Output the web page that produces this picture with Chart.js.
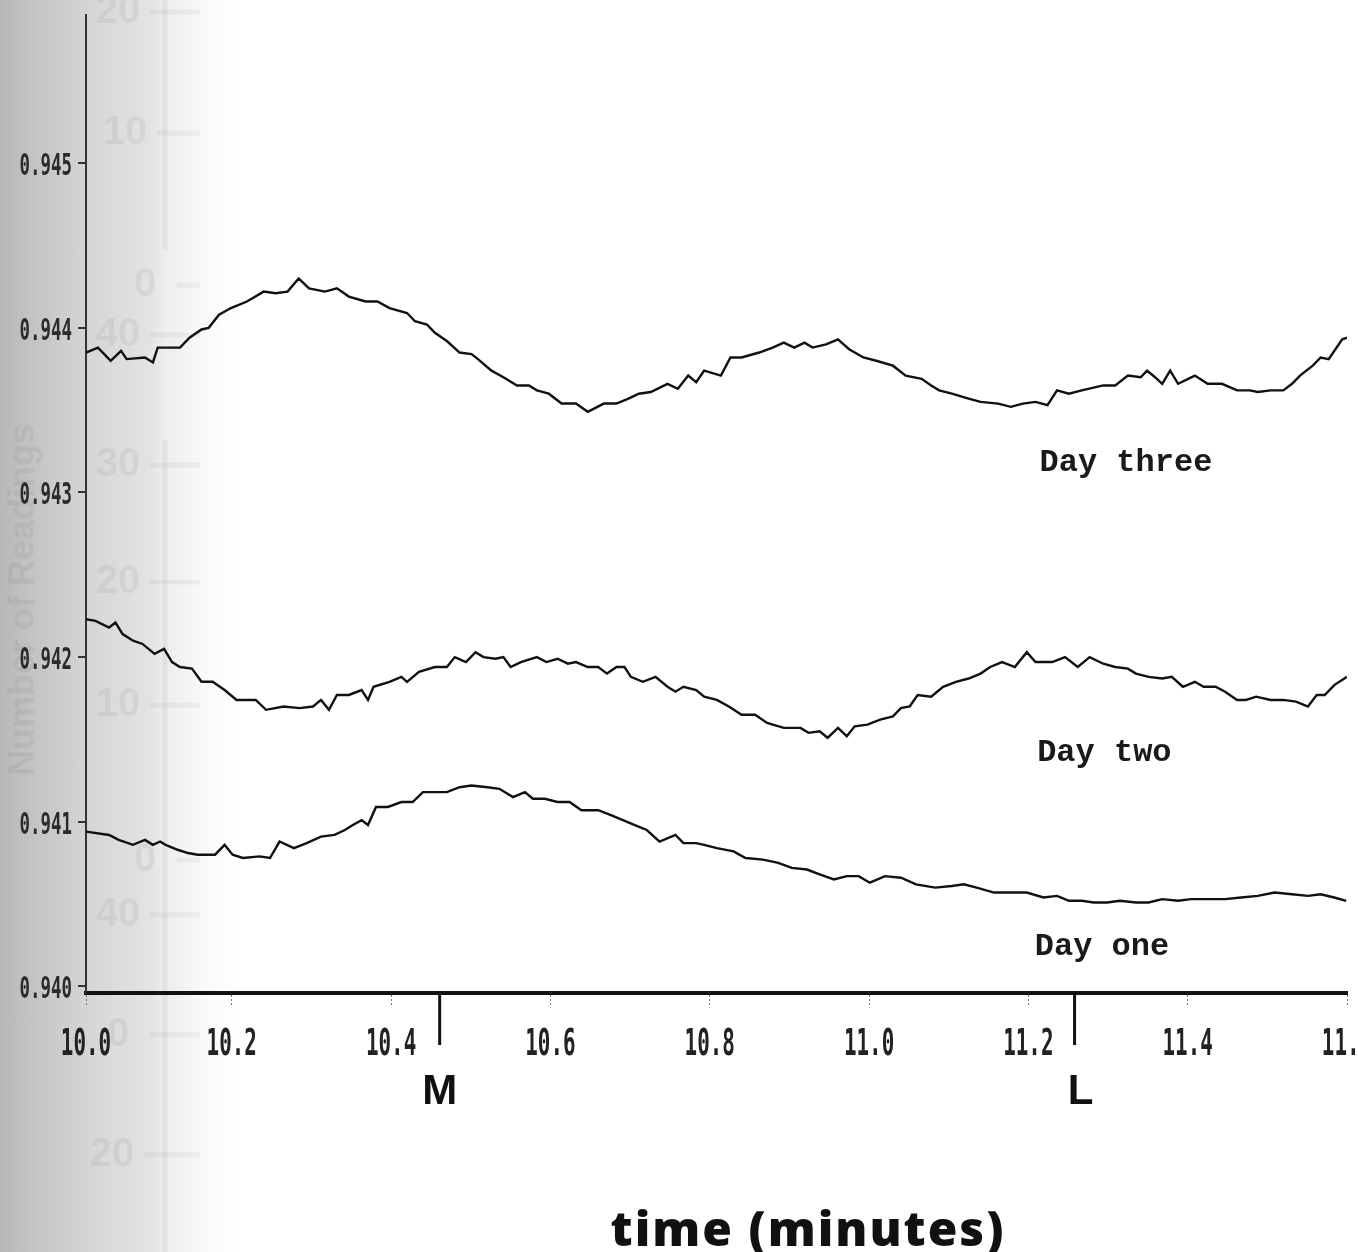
<!DOCTYPE html>
<html>
<head>
<meta charset="utf-8">
<script src="https://cdn.jsdelivr.net/npm/chart.js@4.4.1/dist/chart.umd.min.js"></script>
<style>
  html, body { margin: 0; padding: 0; overflow: hidden; }
  body {
    width: 1358px;
    height: 1252px;
    background: linear-gradient(to right, #b8b8b8 0px, #c6c6c6 40px, #d6d6d6 90px, #e3e3e3 150px, #ededed 165px, #f8f8f8 200px, #ffffff 240px);
  }
  #chart { display: block; }
</style>
</head>
<body>
<canvas id="chart" width="1358" height="1252"></canvas>
<script>
// axis ticks (the plotter put its "10.0" label at the axis line, a bit right of 10.0)
const xTickValues = [10.017, 10.2, 10.4, 10.6, 10.8, 11.0, 11.2, 11.4, 11.6];
const xTickLabels = ['10.0', '10.2', '10.4', '10.6', '10.8', '11.0', '11.2', '11.4', '11.6'];
const yTickValues = [0.940, 0.941, 0.942, 0.943, 0.944, 0.945];
const yTickLabels = ['0.940', '0.941', '0.942', '0.943', '0.944', '0.945'];

// event marks under the time axis
const markerTimes = [10.461, 11.258];
const markerLabels = ['M', 'L'];

const seriesNames = ['Day one', 'Day two', 'Day three'];

const dayOneTime = [10.017, 10.046, 10.058, 10.076, 10.091, 10.101, 10.110, 10.117, 10.132, 10.145,
  10.157, 10.179, 10.191, 10.201, 10.214, 10.235, 10.248, 10.260, 10.278, 10.294,
  10.312, 10.329, 10.342, 10.352, 10.363, 10.371, 10.381, 10.396, 10.413, 10.427,
  10.440, 10.455, 10.470, 10.486, 10.501, 10.521, 10.536, 10.553, 10.568, 10.578,
  10.593, 10.609, 10.624, 10.639, 10.660, 10.676, 10.691, 10.706, 10.721, 10.737,
  10.757, 10.767, 10.783, 10.793, 10.809, 10.830, 10.845, 10.867, 10.886, 10.903,
  10.922, 10.938, 10.956, 10.972, 10.987, 11.001, 11.020, 11.040, 11.059, 11.083,
  11.104, 11.119, 11.135, 11.157, 11.178, 11.198, 11.219, 11.236, 11.251, 11.267,
  11.282, 11.299, 11.315, 11.335, 11.351, 11.368, 11.388, 11.404, 11.425, 11.447,
  11.467, 11.488, 11.509, 11.531, 11.551, 11.567, 11.584, 11.599];
const dayOneValue = [0.94094, 0.94092, 0.94089, 0.94086, 0.94089, 0.94086, 0.94088, 0.94086, 0.94083, 0.94081,
  0.94080, 0.94080, 0.94086, 0.94080, 0.94078, 0.94079, 0.94078, 0.94088, 0.94084, 0.94087,
  0.94091, 0.94092, 0.94095, 0.94098, 0.94101, 0.94098, 0.94109, 0.94109, 0.94112, 0.94112,
  0.94118, 0.94118, 0.94118, 0.94121, 0.94122, 0.94121, 0.94120, 0.94115, 0.94118, 0.94114,
  0.94114, 0.94112, 0.94112, 0.94107, 0.94107, 0.94104, 0.94101, 0.94098, 0.94095, 0.94088,
  0.94092, 0.94087, 0.94087, 0.94086, 0.94084, 0.94082, 0.94078, 0.94077, 0.94075, 0.94072,
  0.94071, 0.94068, 0.94065, 0.94067, 0.94067, 0.94063, 0.94067, 0.94066, 0.94062, 0.94060,
  0.94061, 0.94062, 0.94060, 0.94057, 0.94057, 0.94057, 0.94054, 0.94055, 0.94052, 0.94052,
  0.94051, 0.94051, 0.94052, 0.94051, 0.94051, 0.94053, 0.94052, 0.94053, 0.94053, 0.94053,
  0.94054, 0.94055, 0.94057, 0.94056, 0.94055, 0.94056, 0.94054, 0.94052];

const dayTwoTime = [10.017, 10.029, 10.046, 10.054, 10.063, 10.076, 10.088, 10.103, 10.115, 10.125,
  10.135, 10.150, 10.162, 10.176, 10.191, 10.206, 10.230, 10.243, 10.265, 10.285,
  10.302, 10.312, 10.322, 10.332, 10.347, 10.363, 10.371, 10.378, 10.398, 10.413,
  10.420, 10.435, 10.455, 10.470, 10.480, 10.494, 10.506, 10.516, 10.531, 10.541,
  10.550, 10.563, 10.583, 10.595, 10.609, 10.622, 10.632, 10.647, 10.660, 10.671,
  10.683, 10.693, 10.701, 10.716, 10.732, 10.747, 10.757, 10.767, 10.783, 10.793,
  10.809, 10.824, 10.840, 10.857, 10.872, 10.893, 10.914, 10.924, 10.938, 10.948,
  10.961, 10.972, 10.982, 10.998, 11.014, 11.030, 11.040, 11.051, 11.061, 11.078,
  11.093, 11.109, 11.125, 11.140, 11.152, 11.167, 11.183, 11.198, 11.209, 11.230,
  11.246, 11.262, 11.277, 11.294, 11.309, 11.325, 11.335, 11.351, 11.368, 11.380,
  11.394, 11.409, 11.420, 11.435, 11.447, 11.462, 11.473, 11.486, 11.504, 11.520,
  11.536, 11.551, 11.562, 11.572, 11.584, 11.600];
const dayTwoValue = [0.94223, 0.94222, 0.94218, 0.94221, 0.94214, 0.94210, 0.94208, 0.94202, 0.94205, 0.94197,
  0.94194, 0.94193, 0.94185, 0.94185, 0.94180, 0.94174, 0.94174, 0.94168, 0.94170, 0.94169,
  0.94170, 0.94174, 0.94168, 0.94177, 0.94177, 0.94180, 0.94174, 0.94182, 0.94185, 0.94188,
  0.94185, 0.94191, 0.94194, 0.94194, 0.94200, 0.94197, 0.94203, 0.94200, 0.94199, 0.94200,
  0.94194, 0.94197, 0.94200, 0.94197, 0.94199, 0.94196, 0.94197, 0.94194, 0.94194, 0.94190,
  0.94194, 0.94194, 0.94188, 0.94185, 0.94188, 0.94182, 0.94179, 0.94182, 0.94180, 0.94176,
  0.94174, 0.94170, 0.94165, 0.94165, 0.94160, 0.94157, 0.94157, 0.94154, 0.94155, 0.94151,
  0.94157, 0.94152, 0.94158, 0.94159, 0.94162, 0.94164, 0.94169, 0.94170, 0.94177, 0.94176,
  0.94182, 0.94185, 0.94187, 0.94190, 0.94194, 0.94197, 0.94194, 0.94203, 0.94197, 0.94197,
  0.94200, 0.94194, 0.94200, 0.94196, 0.94194, 0.94193, 0.94190, 0.94188, 0.94187, 0.94188,
  0.94182, 0.94185, 0.94182, 0.94182, 0.94179, 0.94174, 0.94174, 0.94176, 0.94174, 0.94174,
  0.94173, 0.94170, 0.94177, 0.94177, 0.94183, 0.94188];

const dayThreeTime = [10.017, 10.032, 10.048, 10.061, 10.068, 10.091, 10.101, 10.107, 10.135, 10.147,
  10.162, 10.171, 10.184, 10.199, 10.219, 10.226, 10.240, 10.255, 10.270, 10.284,
  10.297, 10.317, 10.332, 10.347, 10.368, 10.383, 10.398, 10.420, 10.430, 10.445,
  10.455, 10.470, 10.486, 10.501, 10.509, 10.526, 10.541, 10.558, 10.573, 10.583,
  10.598, 10.614, 10.632, 10.647, 10.667, 10.683, 10.698, 10.711, 10.726, 10.747,
  10.760, 10.773, 10.783, 10.793, 10.814, 10.826, 10.840, 10.862, 10.879, 10.893,
  10.906, 10.919, 10.929, 10.946, 10.961, 10.975, 10.993, 11.009, 11.030, 11.046,
  11.066, 11.078, 11.088, 11.104, 11.125, 11.140, 11.162, 11.178, 11.193, 11.209,
  11.224, 11.236, 11.251, 11.267, 11.294, 11.309, 11.325, 11.341, 11.349, 11.359,
  11.368, 11.378, 11.388, 11.409, 11.425, 11.443, 11.462, 11.478, 11.488, 11.504,
  11.520, 11.531, 11.541, 11.557, 11.567, 11.577, 11.594, 11.600];
const dayThreeValue = [0.94385, 0.94388, 0.94380, 0.94386, 0.94381, 0.94382, 0.94379, 0.94388, 0.94388, 0.94394,
  0.94399, 0.94400, 0.94408, 0.94412, 0.94416, 0.94418, 0.94422, 0.94421, 0.94422, 0.94430,
  0.94424, 0.94422, 0.94424, 0.94419, 0.94416, 0.94416, 0.94412, 0.94409, 0.94404, 0.94402,
  0.94397, 0.94392, 0.94385, 0.94384, 0.94381, 0.94374, 0.94370, 0.94365, 0.94365, 0.94362,
  0.94360, 0.94354, 0.94354, 0.94349, 0.94354, 0.94354, 0.94357, 0.94360, 0.94361, 0.94366,
  0.94363, 0.94371, 0.94367, 0.94374, 0.94371, 0.94382, 0.94382, 0.94385, 0.94388, 0.94391,
  0.94388, 0.94391, 0.94388, 0.94390, 0.94393, 0.94387, 0.94382, 0.94380, 0.94377, 0.94371,
  0.94369, 0.94365, 0.94362, 0.94360, 0.94357, 0.94355, 0.94354, 0.94352, 0.94354, 0.94355,
  0.94353, 0.94362, 0.94360, 0.94362, 0.94365, 0.94365, 0.94371, 0.94370, 0.94374, 0.94370,
  0.94366, 0.94374, 0.94366, 0.94371, 0.94366, 0.94366, 0.94362, 0.94362, 0.94361, 0.94362,
  0.94362, 0.94366, 0.94371, 0.94377, 0.94382, 0.94381, 0.94393, 0.94394];

const toPoints = (times, values) => times.map((t, i) => ({ x: t, y: values[i] }));

// where each day's name is typed, in axis units (left edge, baseline)
const dayNameSpots = [
  { name: seriesNames[0], x: 11.208, y: 0.94019 },
  { name: seriesNames[1], x: 11.211, y: 0.94137 },
  { name: seriesNames[2], x: 11.214, y: 0.94313 }
];

// condensed plotter-style text
function squeezed(ctx, text, x, y, sx) {
  ctx.save();
  ctx.translate(x, y);
  ctx.scale(sx, 1);
  ctx.fillText(text, 0, 0);
  ctx.restore();
}

    // faint show-through from the other side of the page
const showThrough = {
  id: 'showThrough',
  beforeDraw(chart) {
    const ctx = chart.ctx;
    ctx.save();
    ctx.fillStyle = 'rgba(0, 0, 0, 0.05)';
    ctx.strokeStyle = 'rgba(0, 0, 0, 0.045)';
    ctx.lineWidth = 5;
    ctx.font = 'bold 40px "Liberation Sans"';
    ctx.textAlign = 'center';
    ctx.textBaseline = 'middle';
    const ghost = [[118, 12, '20'], [125, 133, '10'], [145, 285, '0'], [118, 335, '40'], [118, 465, '30'],
      [118, 582, '20'], [118, 705, '10'], [145, 860, '0'], [118, 915, '40'], [118, 1035, '0'], [112, 1155, '20']];
    ghost.forEach(([gx, gy, txt]) => {
      ctx.fillText(txt, gx, gy);
      ctx.beginPath();
      ctx.moveTo(gx + 32, gy);
      ctx.lineTo(200, gy);
      ctx.stroke();
    });
    ctx.beginPath();
    ctx.moveTo(165, 0);
    ctx.lineTo(165, 250);
    ctx.moveTo(165, 440);
    ctx.lineTo(165, 1252);
    ctx.stroke();
    ctx.translate(24, 600);
    ctx.rotate(-Math.PI / 2);
    ctx.font = 'bold 36px "Liberation Sans"';
    ctx.fillText('Number of Readings', 0, 0);
    ctx.restore();
  }
};

const paperLabels = {
  id: 'paperLabels',
  afterDraw(chart) {
    const ctx = chart.ctx;
    const xs = chart.scales.x;
    const ys = chart.scales.y;
    const bottom = chart.chartArea.bottom;
    ctx.save();

    // tick labels
    ctx.fillStyle = '#222';
    ctx.textBaseline = 'alphabetic';
    ctx.textAlign = 'center';
    ctx.font = 'bold 38px "DejaVu Sans Mono"';
    xTickValues.forEach((v, i) => squeezed(ctx, xTickLabels[i], xs.getPixelForValue(v), 1055, 0.55));
    ctx.textAlign = 'right';
    ctx.font = 'bold 30px "DejaVu Sans Mono"';
    ctx.fillStyle = '#2b2b2b';
    yTickValues.forEach((v, i) => squeezed(ctx, yTickLabels[i], 72, ys.getPixelForValue(v) + 12, 0.58));

    // day names
    ctx.fillStyle = '#1a1a1a';
    ctx.textAlign = 'left';
    ctx.font = 'bold 32px "Liberation Mono"';
    dayNameSpots.forEach(s => ctx.fillText(s.name, xs.getPixelForValue(s.x), ys.getPixelForValue(s.y)));

    // M and L marks
    ctx.strokeStyle = '#111';
    ctx.lineWidth = 3;
    ctx.fillStyle = '#111';
    ctx.textAlign = 'center';
    ctx.font = 'bold 42px "Liberation Sans"';
    markerTimes.forEach((t, i) => {
      const px = xs.getPixelForValue(t);
      ctx.beginPath();
      ctx.moveTo(px, bottom);
      ctx.lineTo(px, 1045);
      ctx.stroke();
      ctx.fillText(markerLabels[i], markerLabels[i] === 'L' ? px + 6 : px, 1104);
    });

    // axis title
    ctx.font = '800 48px "Open Sans"';
    ctx.letterSpacing = '2px';
    ctx.fillText('time (minutes)', 808, 1246);
    ctx.restore();
  }
};

const lineStyle = { borderColor: '#111', borderWidth: 2.4, pointRadius: 0, tension: 0, fill: false };

new Chart(document.getElementById('chart').getContext('2d'), {
  type: 'line',
  data: {
    datasets: [
      { label: seriesNames[0], data: toPoints(dayOneTime, dayOneValue), ...lineStyle },
      { label: seriesNames[1], data: toPoints(dayTwoTime, dayTwoValue), ...lineStyle },
      { label: seriesNames[2], data: toPoints(dayThreeTime, dayThreeValue), ...lineStyle }
    ]
  },
  options: {
    responsive: false,
    animation: false,
    events: [],
    layout: { padding: { top: 15, right: 11, bottom: 0, left: 0 } },
    plugins: { legend: { display: false }, tooltip: { enabled: false } },
    scales: {
      x: {
        type: 'linear',
        min: xTickValues[0],
        max: 11.6,
        afterBuildTicks: s => { s.ticks = xTickValues.map(v => ({ value: v })); },
        afterFit: s => { s.height = 259; s.paddingLeft = 0; s.paddingRight = 0; },
        ticks: { display: false },
        grid: { drawOnChartArea: false, tickLength: 12, color: '#777', lineWidth: 1, tickBorderDash: [2, 2] },
        border: { color: '#111', width: 4 }
      },
      y: {
        type: 'linear',
        min: 0.93996,
        max: 0.9459,
        afterBuildTicks: s => { s.ticks = yTickValues.map(v => ({ value: v })); },
        afterFit: s => { s.width = 86; s.paddingTop = 0; s.paddingBottom = 0; },
        ticks: { display: false },
        grid: { drawOnChartArea: false, tickLength: 8, color: '#333', lineWidth: 2 },
        border: { color: '#333', width: 2, dash: [3, 2] }
      }
    }
  },
  plugins: [showThrough, paperLabels]
});
</script>
</body>
</html>
